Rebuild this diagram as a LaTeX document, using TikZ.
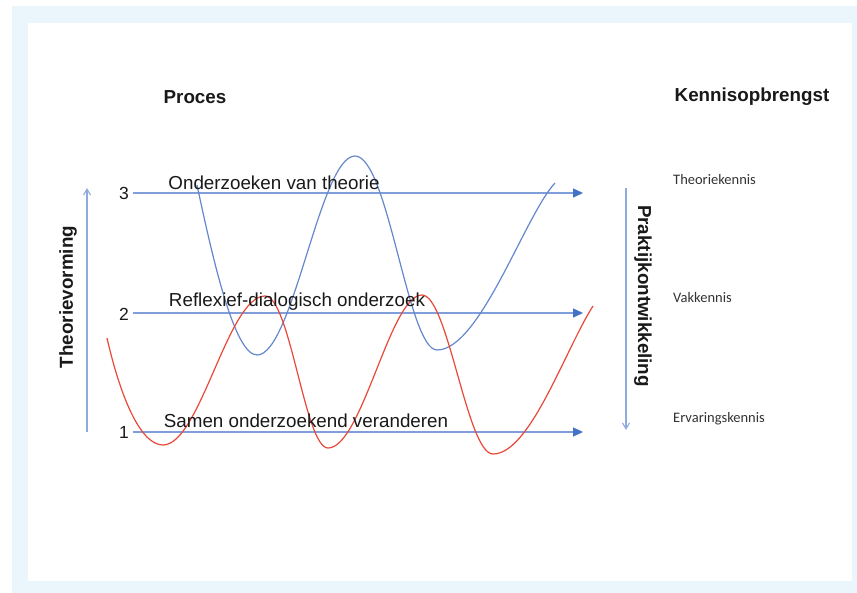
\documentclass[tikz,border=0pt]{standalone}
\usepackage{fontspec}
\setmainfont{Liberation Sans}
\newfontfamily\calib{Carlito}
\usetikzlibrary{arrows.meta}
\definecolor{frame}{RGB}{234,245,252}
\definecolor{axis}{RGB}{143,170,222}
\definecolor{lvl}{RGB}{128,158,218}
\definecolor{head}{RGB}{68,114,196}
\definecolor{bcurve}{RGB}{100,135,205}
\definecolor{rcurve}{RGB}{234,72,56}
\definecolor{txt}{RGB}{25,25,25}
\tikzset{
  title/.style={font=\fontsize{18.8}{22}\selectfont\bfseries, text=txt, inner sep=0pt},
  lbl/.style={font=\fontsize{18.8}{21}\selectfont, text=txt, inner sep=0pt},
  num/.style={font=\fontsize{17.5}{20}\selectfont, text=txt, inner sep=0pt},
  kenn/.style={font=\calib\fontsize{14.5}{17}\selectfont, text=black!80, inner sep=0pt, anchor=west},
  level/.style={draw=lvl, line width=1.3pt, -{Triangle[length=10pt,width=9pt,fill=head,color=head]}},
  vaxis/.style={draw=axis, line width=1.1pt, -{Straight Barb[length=6pt,width=7pt]}},
  bluecurve/.style={draw=bcurve, line width=1.2pt},
  redcurve/.style={draw=rcurve, line width=1.2pt}
}
\begin{document}
\begin{tikzpicture}[x=1pt,y=-1pt]
\useasboundingbox (0,0) rectangle (857,593);
\fill[white] (0,0) rectangle (857,593);
\fill[frame] (12,6) rectangle (857,593);
\fill[white] (28,23) rectangle (852,581);

% titles
\node[title] (proces) at (195,97) {Proces};
\node[title] (kop) at (752,97) {Kennisopbrengst};
\node[title, rotate=90] (theo) at (68,297) {Theorievorming};
\node[title, rotate=-90] (prak) at (643,296) {Praktijkontwikkeling};

% vertical axes
\coordinate (la0) at (87,432);
\coordinate (la1) at (87,188);
\coordinate (ra0) at (626,188);
\coordinate (ra1) at (626,430);
\draw[vaxis] (la0) -- (la1);
\draw[vaxis] (ra0) -- (ra1);

% levels
\node[num] (n3) at (124,193) {3};
\node[num] (n2) at (124,314) {2};
\node[num] (n1) at (124,432) {1};
\coordinate (l3a) at (133,193); \coordinate (l3b) at (583,193);
\coordinate (l2a) at (133,313); \coordinate (l2b) at (583,313);
\coordinate (l1a) at (133,432); \coordinate (l1b) at (583,432);
\draw[level] (l3a) -- (l3b);
\draw[level] (l2a) -- (l2b);
\draw[level] (l1a) -- (l1b);

% curves
\draw[bluecurve] (197,185) .. controls (212,255) and (234,355) .. (257,355)
  .. controls (293,355) and (320,156) .. (355,156)
  .. controls (388,156) and (408,350) .. (437,350)
  .. controls (480,350) and (525,215) .. (555,183);
\draw[redcurve] (107,338) .. controls (120,395) and (140,445) .. (163,445)
  .. controls (200,445) and (228,296) .. (265,296)
  .. controls (290,296) and (305,448) .. (328,448)
  .. controls (362,448) and (390,295) .. (422,295)
  .. controls (448,295) and (467,454) .. (493,454)
  .. controls (530,454) and (565,350) .. (593,306);

% level labels
\node[lbl] (t3) at (274,183) {Onderzoeken van theorie};
\node[lbl] (t2) at (297,302) {Reflexief-dialogisch onderzoek};
\node[lbl] (t1) at (306,421) {Samen onderzoekend veranderen};

% knowledge labels
\node[kenn] (k3) at (673,180) {Theoriekennis};
\node[kenn] (k2) at (673,298) {Vakkennis};
\node[kenn] (k1) at (673,419) {Ervaringskennis};
\end{tikzpicture}
\end{document}
